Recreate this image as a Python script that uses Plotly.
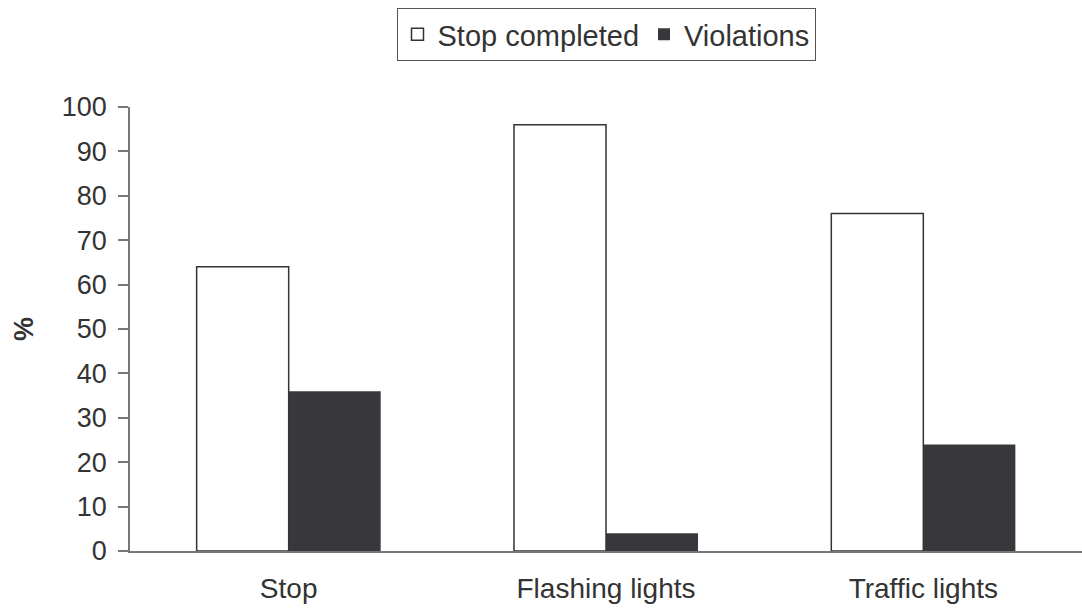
import plotly.graph_objects as go

categories = ["Stop", "Flashing lights", "Traffic lights"]
stop_completed = [64, 96, 76]
violations = [36, 4, 24]
y_ticks = list(range(0, 101, 10))

font_family = "Liberation Sans, Arial, sans-serif"
text_color = "#333333"

fig = go.Figure()
fig.add_trace(go.Bar(
    x=categories, y=stop_completed, name="Stop completed",
    marker=dict(color="white", line=dict(color="#333333", width=1.5)),
))
fig.add_trace(go.Bar(
    x=categories, y=violations, name="Violations",
    marker=dict(color="#38373c", line=dict(color="#38373c", width=0)),
))

fig.update_layout(
    width=1082, height=613,
    margin=dict(l=130, r=0, t=107, b=62),
    paper_bgcolor="white", plot_bgcolor="white",
    barmode="group", bargap=0.42, bargroupgap=0,
    font=dict(family=font_family, size=27, color=text_color),
    showlegend=True,
    legend=dict(
        orientation="h", x=0.5, xanchor="center", y=1.223, yanchor="top",
        bordercolor="#555555", borderwidth=1, bgcolor="white",
        font=dict(size=29, color=text_color),
        tracegroupgap=0,
    ),
    xaxis=dict(
        showline=True, linecolor="#777777", linewidth=1.5,
        ticks="", showgrid=False, zeroline=False,
        tickfont=dict(size=28, color=text_color),
        ticklabelstandoff=12,
    ),
    yaxis=dict(
        range=[0, 100], tickvals=y_ticks,
        showline=True, linecolor="#777777", linewidth=1.5,
        ticks="outside", ticklen=10, tickcolor="#777777", tickwidth=1.5,
        showgrid=False, zeroline=False,
        tickfont=dict(size=27, color=text_color),
        ticklabelstandoff=6,
        title=dict(text="<b>%</b>", font=dict(size=27, color=text_color), standoff=20),
    ),
)

fig.write_html("out.html")
